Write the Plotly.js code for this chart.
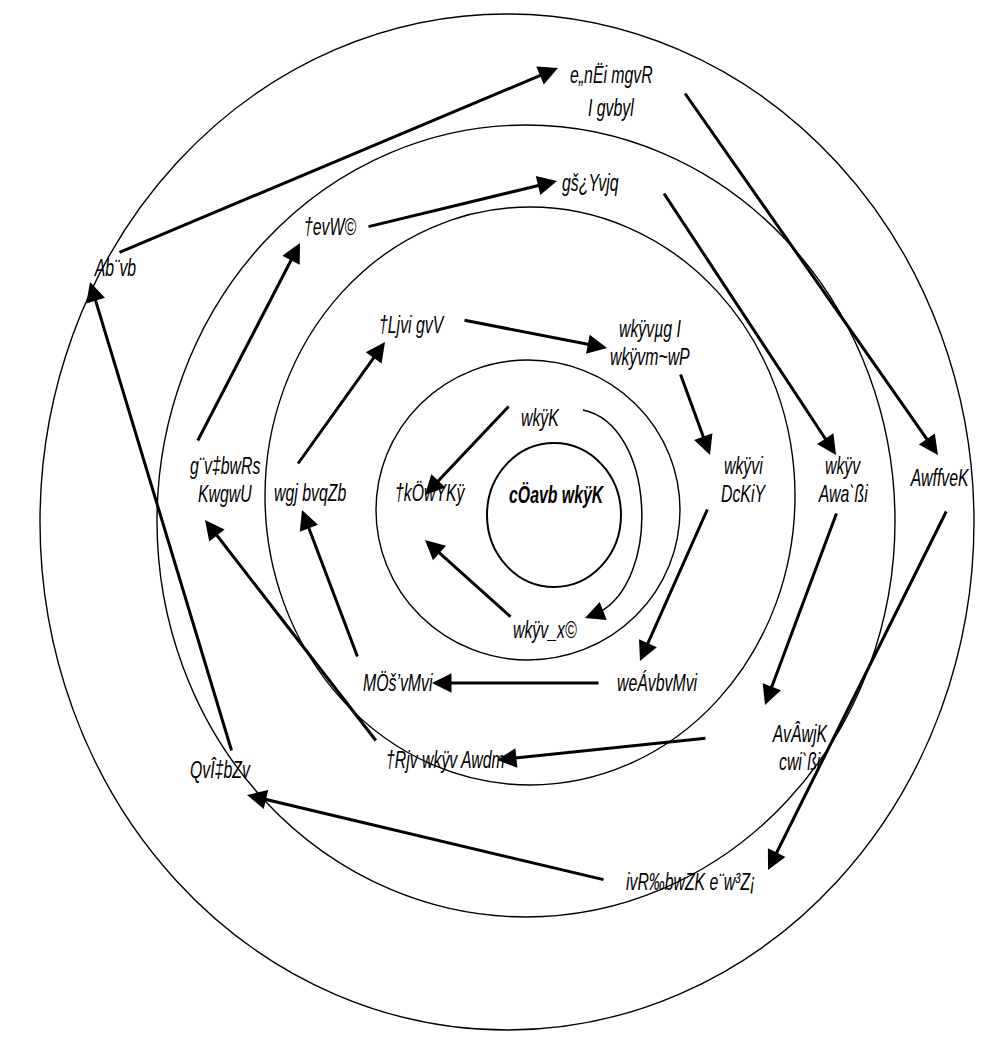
<!DOCTYPE html>
<html>
<head>
<meta charset="utf-8">
<script src="https://cdn.plot.ly/plotly-3.0.1.min.js"></script>
<style>
html,body{margin:0;padding:0;background:#fff;}
.annotation-text{transform-box:fill-box;transform-origin:center;transform:scaleX(0.66);}
</style>
</head>
<body>
<div id="chart" style="width:981px;height:1038px;"></div>
<script>
// Node labels (SutonnyMJ-encoded Bengali, as shown) and their positions
const labelText = [
  "e„nËi mgvR", "I gvbyl", "gš¿Yvjq", "†evW©", "Ab¨vb", "†Ljvi gvV",
  "wkÿvµg I", "wkÿvm~wP", "wkÿK", "†kÖwYKÿ", "wkÿvi", "DcKiY",
  "wkÿv", "Awa`ßi", "AwffveK", "g¨v‡bwRs", "KwgwU", "wgj bvqZb",
  "wkÿv_x©", "MÖš’vMvi", "weÁvbvMvi", "AvÂwjK", "cwi`ßi",
  "†Rjv wkÿv Awdm", "QvÎ‡bZv", "ivR‰bwZK e¨w³Z¡"
];
const labelX = [611, 611, 590, 330, 115, 412, 650, 650, 540, 430, 743, 743,
  843, 843, 940, 225, 225, 310, 545, 398, 657, 800, 800, 445, 220, 690];
const labelY = [75, 108, 183, 227, 268, 325, 329, 357, 418, 493, 466, 494,
  466, 494, 478, 466, 494, 493, 630, 683, 683, 734, 762, 760, 770, 882];

const centerLabel = "cÖavb wkÿK";
const centerX = 556, centerY = 495;

// Concentric ellipses: centre and radii
const ellCx = [507, 526, 530, 528, 554];
const ellCy = [522, 521, 496, 510, 515];
const ellRx = [467, 369, 265, 152, 67];
const ellRy = [508, 396, 289, 150, 72];
const ellW  = [1.4, 1.4, 1.4, 1.4, 2];

// Straight arrows: tail (x0,y0) -> head (x1,y1)
const arrX0 = [118, 684, 947, 605, 232, 367, 663, 837, 707, 377, 197, 463, 680, 708, 600, 358, 297, 510, 512];
const arrY0 = [253,  92, 510, 880, 752, 227, 192, 512, 738, 742, 442, 320, 373, 508, 683, 658, 465, 405, 618];
const arrX1 = [558, 938, 768, 247,  90, 557, 836, 765, 497, 205, 300, 607, 710, 640, 432, 302, 385, 425, 425];
const arrY1 = [ 68, 455, 870, 795, 282, 181, 455, 705, 760, 520, 243, 348, 455, 661, 683, 510, 342, 495, 540];

// Curved arrow (wkÿK -> wkÿv_x©): cubic Bezier control points
const curveX = [583, 655, 662, 598];
const curveY = [410, 425, 580, 613];

const font = {family: "Liberation Sans, Arial, sans-serif", size: 24, color: "#000", style: "italic"};

const shapes = ellCx.map((cx, i) => ({
  type: "circle", xref: "x", yref: "y",
  x0: cx - ellRx[i], x1: cx + ellRx[i], y0: ellCy[i] - ellRy[i], y1: ellCy[i] + ellRy[i],
  line: {color: "#000", width: ellW[i]}
}));
shapes.push({
  type: "path", xref: "x", yref: "y",
  path: `M ${curveX[0]} ${curveY[0]} C ${curveX[1]} ${curveY[1]}, ${curveX[2]} ${curveY[2]}, ${curveX[3]} ${curveY[3]}`,
  line: {color: "#000", width: 1.5}
});

const annotations = [];
labelText.forEach((t, i) => annotations.push({
  x: labelX[i], y: labelY[i], xref: "x", yref: "y", text: t, showarrow: false,
  xanchor: "center", yanchor: "middle", font: font, borderpad: 0
}));
annotations.push({
  x: centerX, y: centerY, xref: "x", yref: "y", text: "<b>" + centerLabel + "</b>",
  showarrow: false, xanchor: "center", yanchor: "middle", font: font, borderpad: 0
});
arrX0.forEach((x0, i) => annotations.push({
  x: arrX1[i], y: arrY1[i], ax: x0, ay: arrY0[i], xref: "x", yref: "y", axref: "x", ayref: "y",
  text: "", showarrow: true, arrowhead: 2, arrowsize: 1.3, arrowwidth: 3, arrowcolor: "#000", standoff: 0
}));
// head of the curved arrow
annotations.push({
  x: 585, y: 618, ax: curveX[3], ay: curveY[3], xref: "x", yref: "y", axref: "x", ayref: "y",
  text: "", showarrow: true, arrowhead: 2, arrowsize: 2.6, arrowwidth: 1.5, arrowcolor: "#000", standoff: 0
});

const layout = {
  width: 981, height: 1038,
  margin: {l: 0, r: 0, t: 0, b: 0},
  paper_bgcolor: "#fff", plot_bgcolor: "#fff",
  xaxis: {range: [0, 981], visible: false, fixedrange: true},
  yaxis: {range: [1038, 0], visible: false, fixedrange: true},
  shapes: shapes,
  annotations: annotations,
  showlegend: false
};

Plotly.newPlot("chart", [{x: [], y: [], type: "scatter", mode: "markers", hoverinfo: "skip"}], layout, {displayModeBar: false, staticPlot: true});
</script>
</body>
</html>
